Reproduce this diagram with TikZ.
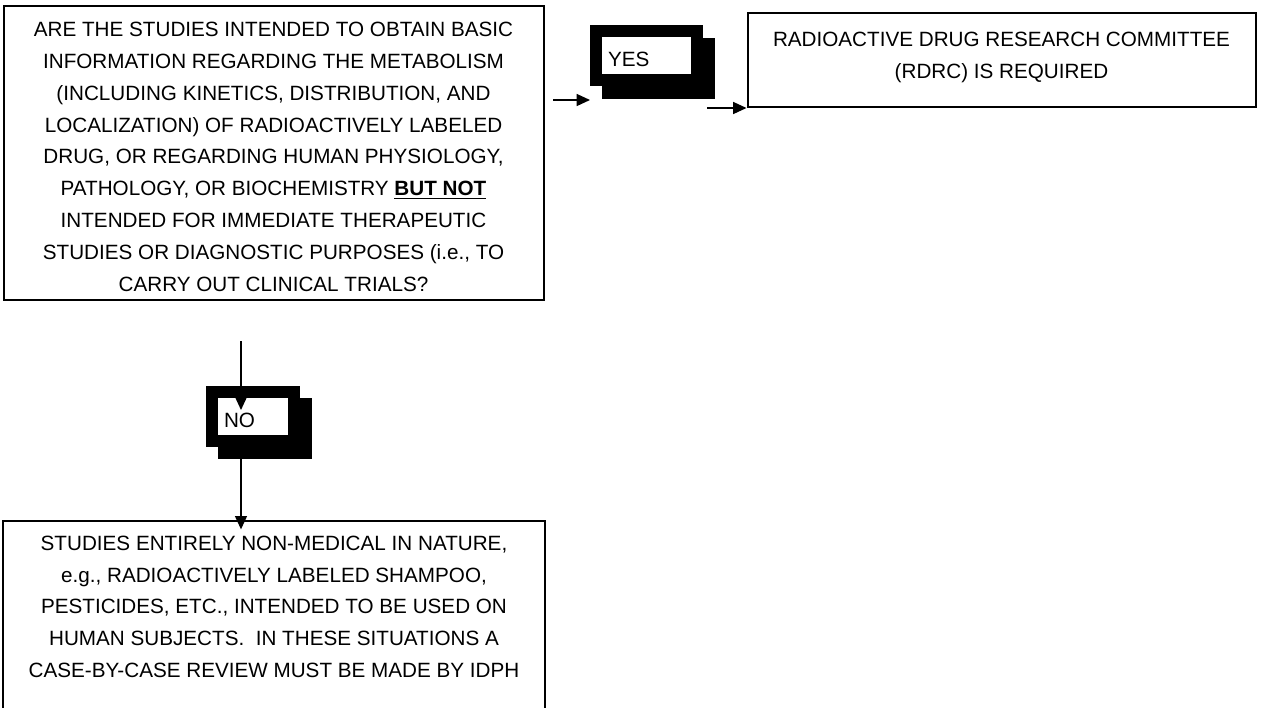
\documentclass[tikz,border=0pt]{standalone}
\usepackage{fontspec}
\setmainfont{Liberation Sans}
\usetikzlibrary{arrows.meta,backgrounds}
\begin{document}
\begin{tikzpicture}[>={Triangle[length=10pt,width=9pt]}, x=0.75pt, y=-0.75pt]
\tikzstyle{every node}=[font=\fontsize{15.5pt}{23.9pt}\selectfont]
\tikzstyle{box}=[draw, rectangle, line width=1.5pt, align=center]
\tikzstyle{flag}=[draw, rectangle, line width=9pt, fill=white, align=left, inner xsep=9pt, minimum height=37pt, text height=16.5pt, text depth=0pt]
\tikzstyle{link}=[->, line width=1pt]
\useasboundingbox (0,0) rectangle (1281,707);
\clip (0,0) rectangle (1281,707);
%
\node[box, minimum width=405pt, minimum height=221pt](q) at (273.5,153) {\rule{0pt}{16.5pt}ARE THE STUDIES INTENDED TO OBTAIN BASIC\\
INFORMATION REGARDING THE METABOLISM\\
(INCLUDING KINETICS, DISTRIBUTION, AND\\
LOCALIZATION) OF RADIOACTIVELY LABELED\\
DRUG, OR REGARDING HUMAN PHYSIOLOGY,\\
PATHOLOGY, OR BIOCHEMISTRY \textbf{\underline{BUT NOT}}\\
INTENDED FOR IMMEDIATE THERAPEUTIC\\
STUDIES OR DIAGNOSTIC PURPOSES (i.e., TO\\
CARRY OUT CLINICAL TRIALS?};
\node[box, minimum width=381pt, minimum height=70pt, text depth=7.5pt](rdrc) at (1001.5,60) {RADIOACTIVE DRUG RESEARCH COMMITTEE\\
(RDRC) IS REQUIRED};
\node[box, minimum width=406pt, minimum height=148.5pt, text depth=20pt](s) at (274,620) {STUDIES ENTIRELY NON-MEDICAL IN NATURE,\\
e.g., RADIOACTIVELY LABELED SHAMPOO,\\
PESTICIDES, ETC., INTENDED TO BE USED ON\\
HUMAN SUBJECTS.\ \ IN THESE SITUATIONS A\\
CASE-BY-CASE REVIEW MUST BE MADE BY IDPH};
%
\node[flag, text width=57.75pt](yes) at (646.5,55.75) {YES};
\node[flag, text width=43.5pt](no) at (253,416.5) {NO};
\begin{scope}[on background layer]
\fill ([shift={(12,13)}]yes.north west) rectangle ([shift={(12,13)}]yes.south east);
\fill ([shift={(12,12)}]no.north west) rectangle ([shift={(12,12)}]no.south east);
\end{scope}
%
\coordinate (yesin) at (553,100);
\coordinate (rdrcin) at (707,108);
\coordinate (noin) at (241,341);
\coordinate (notip) at (241,410);
\coordinate (noout) at (241,459);
\draw[link] (yesin) -- (yesin -| yes.west);
\draw[link] (rdrcin) -- (rdrcin -| rdrc.west);
\draw[link] (noin) -- (notip);
\draw[link] (noout) -- ([yshift=-7pt]noout |- s.north);
\end{tikzpicture}
\end{document}
